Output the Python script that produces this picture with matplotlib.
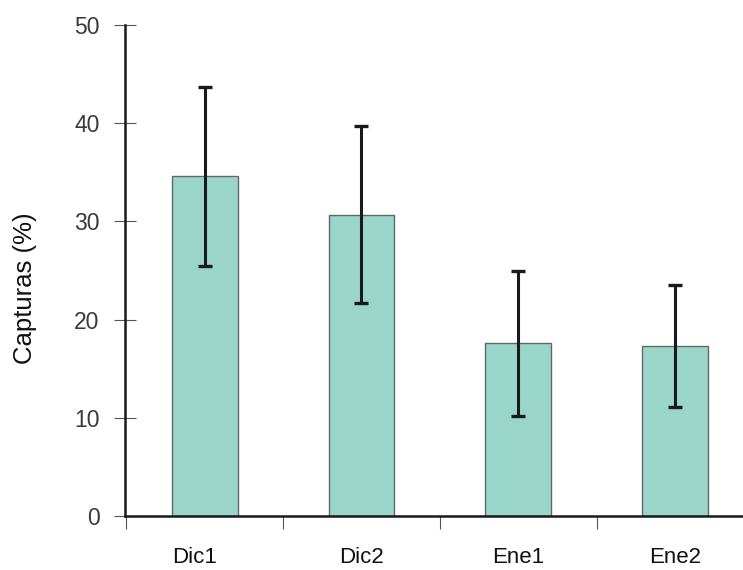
import matplotlib
matplotlib.use('Agg')
import matplotlib.pyplot as plt
from matplotlib.transforms import ScaledTranslation

# data
categories = ['Dic1', 'Dic2', 'Ene1', 'Ene2']
capturas = [34.6, 30.7, 17.6, 17.3]
errores = [9.1, 9.0, 7.4, 6.2]
y_ticks = [0, 10, 20, 30, 40, 50]

plt.rcParams['font.family'] = ['Liberation Sans', 'DejaVu Sans']

fig = plt.figure(figsize=(7.43, 5.70), dpi=100)
ax = fig.add_axes([125 / 743, 54 / 570, 1 - 125 / 743, 491 / 570])

pos = list(range(len(categories)))
ax.bar(pos, capturas, width=0.42, color='#9ad5ca', edgecolor='#666666',
       linewidth=1.0, zorder=2)
ax.errorbar(pos, capturas, yerr=errores, fmt='none', ecolor='#1a1a1a',
            elinewidth=2.2, capsize=4.8, capthick=2.4, zorder=3)

ax.set_xlim(-0.508, 3.433)
ax.set_ylim(0, 50)

# spines
ax.spines['top'].set_visible(False)
ax.spines['right'].set_visible(False)
ax.spines['left'].set_linewidth(1.8)
ax.spines['bottom'].set_linewidth(1.8)
ax.spines['left'].set_color('#1a1a1a')
ax.spines['bottom'].set_color('#1a1a1a')

# y ticks cross the axis
ax.set_yticks(y_ticks)
ax.tick_params(axis='y', direction='inout', length=16.5, width=0.8,
               color='#555555', labelsize=16.5, labelcolor='#3a3a3a', pad=10)

# x: labels at centres, tick marks at the category borders
ax.set_xticks(pos)
ax.set_xticklabels(categories)
ax.tick_params(axis='x', which='major', length=0, labelsize=16,
               labelcolor='#111111', pad=22)
ax.set_xticks([-0.5, 0.5, 1.5, 2.5], minor=True)
ax.tick_params(axis='x', which='minor', direction='out', length=9.5,
               width=0.8, color='#555555')

# first label sits a little left of its bar in the original
lab0 = ax.get_xticklabels()[0]
lab0.set_transform(lab0.get_transform() +
                   ScaledTranslation(-0.10, 0, fig.dpi_scale_trans))

ax.set_ylabel('Capturas (%)', fontsize=18.5, color='#111111')
ax.yaxis.set_label_coords(-0.142, 0.464)

fig.savefig('out.png', dpi=100)
